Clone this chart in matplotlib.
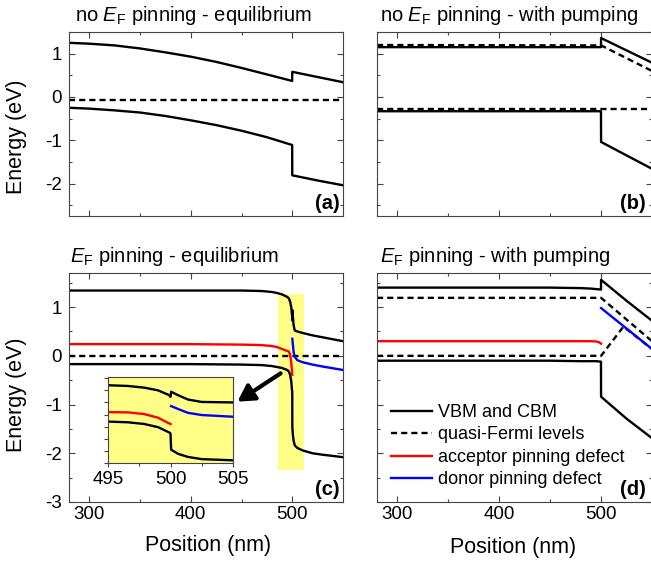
import numpy as np
import matplotlib
matplotlib.use('Agg')
import matplotlib.pyplot as plt
from matplotlib.ticker import MultipleLocator
from matplotlib.patches import Rectangle

plt.rcParams['font.family'] = ['Liberation Sans', 'DejaVu Sans']
plt.rcParams['mathtext.fontset'] = 'custom'
plt.rcParams['mathtext.rm'] = 'Liberation Sans'
plt.rcParams['mathtext.it'] = 'Liberation Sans:italic'
plt.rcParams['mathtext.bf'] = 'Liberation Sans:bold'
plt.rcParams['axes.unicode_minus'] = False

# (a) sin pinning, equilibrio
a_x = [280, 300, 325, 350, 375, 400, 425, 450, 475, 499.9, 500, 525, 550]
a_cbm = [1.25, 1.23, 1.19, 1.12, 1.03, 0.93, 0.81, 0.67, 0.52, 0.37, 0.58, 0.46, 0.34]
a_vbm = [-0.25, -0.27, -0.31, -0.36, -0.44, -0.54, -0.65, -0.78, -0.93, -1.11, -1.81, -1.93, -2.04]
a_ef_x = [280, 550]
a_ef = [-0.06, -0.06]

# (b) sin pinning, con bombeo
b_x = [280, 499.9, 500, 550]
b_cbm = [1.15, 1.15, 1.36, 0.79]
b_vbm = [-0.33, -0.33, -1.04, -1.66]
b_efn_x = [280, 500, 550]
b_efn = [1.20, 1.19, 0.60]
b_efp_x = [280, 550]
b_efp = [-0.28, -0.28]

# (c) pinning, equilibrio
c_x = [280, 400, 450, 470, 480, 485, 490, 495, 496.6, 497.9, 499.0, 499.9, 500.0,
       500.05, 500.6, 501.4, 502.5, 505, 510, 520, 530, 550]
c_cbm = [1.34, 1.34, 1.34, 1.33, 1.31, 1.29, 1.26, 1.21, 1.18, 1.11, 1.00, 0.80, 0.73,
         0.94, 0.80, 0.62, 0.52, 0.50, 0.47, 0.42, 0.38, 0.30]
c_vbm = [-0.17, -0.17, -0.18, -0.19, -0.21, -0.23, -0.25, -0.29, -0.32, -0.39, -0.52, -0.74, -0.78,
         -1.45, -1.62, -1.75, -1.84, -1.89, -1.94, -2.00, -2.03, -2.08]
c_red_x = [280, 400, 450, 470, 480, 485, 490, 495, 496.6, 497.9, 499.0, 499.6, 500.0]
c_red = [0.24, 0.24, 0.23, 0.22, 0.20, 0.18, 0.14, 0.10, 0.09, 0.02, -0.13, -0.29, -0.39]
c_blue_x = [500.05, 500.6, 501.4, 502.5, 505, 510, 520, 530, 550]
c_blue = [0.35, 0.23, 0.07, -0.02, -0.09, -0.13, -0.18, -0.22, -0.29]
c_ef_x = [280, 550]
c_ef = [0.0, 0.0]

# (d) pinning, con bombeo
d_x = [280, 450, 480, 490, 495, 499.9, 500, 525, 550]
d_cbm = [1.40, 1.40, 1.39, 1.38, 1.37, 1.36, 1.56, 1.13, 0.72]
d_vbm = [-0.10, -0.10, -0.11, -0.11, -0.11, -0.12, -0.84, -1.29, -1.69]
d_efn_x = [280, 500, 550]
d_efn = [1.19, 1.19, 0.30]
d_efp_x = [280, 500, 522, 550]
d_efp = [0.0, 0.0, 0.60, 0.14]
d_red_x = [280, 490, 495, 498, 500]
d_red = [0.30, 0.30, 0.295, 0.28, 0.25]
d_blue_x = [500, 525, 550]
d_blue = [0.98, 0.56, 0.14]

W, H = 651, 565
fig = plt.figure(figsize=(W / 100, H / 100), dpi=100)


def px_axes(l, t, r, b):
    return fig.add_axes([l / W, 1 - b / H, (r - l) / W, (b - t) / H])


GR = '#444444'
LW = 1.7
DASH = (2.6, 1.7)
TS = 13.5


def style(ax, ylim, yticks, xlab=True, ylab=True):
    ax.set_xlim(280, 550)
    ax.set_ylim(*ylim)
    ax.set_xticks([300, 400, 500])
    ax.set_xticks([350, 450], minor=True)
    ax.set_yticks(yticks)
    ax.yaxis.set_minor_locator(MultipleLocator(0.5))
    ax.tick_params(which='both', direction='in', top=True, right=True, color=GR,
                   labelsize=TS, width=0.8)
    ax.tick_params(which='major', length=4)
    ax.tick_params(which='minor', length=2)
    ax.tick_params(axis='x', pad=3)
    ax.tick_params(axis='y', pad=5)
    if not xlab:
        ax.set_xticklabels([])
    if not ylab:
        ax.set_yticklabels([])
    for s in ax.spines.values():
        s.set_color(GR)
        s.set_linewidth(0.8)


def panel_label(ax, txt, dx):
    ax.annotate(txt, xy=(1, 0), xycoords='axes fraction', xytext=(dx, 3),
                textcoords='offset pixels', ha='right', va='bottom',
                fontsize=14.5, fontweight='bold')


ax_a = px_axes(69, 32, 343, 216)
ax_b = px_axes(377, 32, 652, 216)
ax_c = px_axes(69, 273, 343, 502)
ax_d = px_axes(377, 273, 652, 502)

# (a)
ax_a.plot(a_x, a_cbm, 'k', lw=LW)
ax_a.plot(a_x, a_vbm, 'k', lw=LW)
ax_a.plot(a_ef_x, a_ef, 'k', lw=LW, dashes=DASH)
style(ax_a, (-2.75, 1.5), [-2, -1, 0, 1], xlab=False)
panel_label(ax_a, '(a)', -3)

# (b)
ax_b.plot(b_x, b_cbm, 'k', lw=LW)
ax_b.plot(b_x, b_vbm, 'k', lw=LW)
ax_b.plot(b_efn_x, b_efn, 'k', lw=LW, dashes=DASH)
ax_b.plot(b_efp_x, b_efp, 'k', lw=LW, dashes=DASH)
style(ax_b, (-2.75, 1.5), [-2, -1, 0, 1], xlab=False, ylab=False)
panel_label(ax_b, '(b)', -6)

# (c)
ax_c.add_patch(Rectangle((486, -2.35), 26, 3.62, facecolor='#ffff88', edgecolor='none', zorder=0.5))
ax_c.plot(c_x, c_cbm, 'k', lw=LW)
ax_c.plot(c_x, c_vbm, 'k', lw=LW)
ax_c.plot(c_ef_x, c_ef, 'k', lw=LW, dashes=DASH)
ax_c.plot(c_red_x, c_red, color='red', lw=LW)
ax_c.plot(c_blue_x, c_blue, color='blue', lw=LW)
ax_c.annotate('', xy=(446, -0.94), xytext=(488.5, -0.36),
              arrowprops=dict(arrowstyle='-|>,head_length=0.7,head_width=0.4', lw=3,
                              color='k', shrinkA=0, shrinkB=0, mutation_scale=14),
              zorder=5)
style(ax_c, (-3, 1.7), [-3, -2, -1, 0, 1])
panel_label(ax_c, '(c)', -3)

# (d)
h1, = ax_d.plot(d_x, d_cbm, 'k', lw=LW, label='VBM and CBM')
ax_d.plot(d_x, d_vbm, 'k', lw=LW)
h2, = ax_d.plot(d_efn_x, d_efn, 'k', lw=LW, dashes=DASH, label='quasi-Fermi levels')
ax_d.plot(d_efp_x, d_efp, 'k', lw=LW, dashes=DASH)
h3, = ax_d.plot(d_red_x, d_red, color='red', lw=LW, label='acceptor pinning defect')
h4, = ax_d.plot(d_blue_x, d_blue, color='blue', lw=LW, label='donor pinning defect')
style(ax_d, (-3, 1.7), [-3, -2, -1, 0, 1], ylab=False)
panel_label(ax_d, '(d)', -6)
ax_d.legend(handles=[h1, h2, h3, h4], loc='upper left',
            bbox_to_anchor=(391 / W, 1 - 404 / H), bbox_transform=fig.transFigure,
            frameon=False, fontsize=13, handlelength=2.25, handletextpad=0.35,
            labelspacing=0.3, borderpad=0, borderaxespad=0)

# inset de (c)
ax_in = px_axes(108, 377, 233, 463)
ax_in.set_facecolor('#ffff88')
ax_in.plot(c_x, c_cbm, 'k', lw=LW)
ax_in.plot(c_x, c_vbm, 'k', lw=LW)
ax_in.plot(c_red_x, c_red, color='red', lw=LW)
ax_in.plot(c_blue_x, c_blue, color='blue', lw=LW)
ax_in.set_xlim(495, 505)
ax_in.set_ylim(-2.0, 1.55)
ax_in.set_xticks([495, 500, 505])
ax_in.xaxis.set_minor_locator(MultipleLocator(2.5))
ax_in.set_yticks(np.arange(-2.0, 1.6, 0.5))
ax_in.set_yticklabels([])
ax_in.tick_params(which='both', direction='out', color=GR, labelsize=TS, width=0.8, pad=3)
ax_in.tick_params(which='major', length=3)
ax_in.tick_params(which='minor', length=2)
for s in ax_in.spines.values():
    s.set_color(GR)
    s.set_linewidth(0.8)

# titulos y etiquetas
fig.text(75 / W, 1 - 21 / H, 'no $E_\\mathrm{F}$ pinning - equilibrium', fontsize=14.5, va='baseline')
fig.text(380 / W, 1 - 21 / H, 'no $E_\\mathrm{F}$ pinning - with pumping', fontsize=14.5, va='baseline')
fig.text(70 / W, 1 - 262 / H, '$E_\\mathrm{F}$ pinning - equilibrium', fontsize=14.5, va='baseline')
fig.text(380 / W, 1 - 262 / H, '$E_\\mathrm{F}$ pinning - with pumping', fontsize=14.5, va='baseline')

fig.text(17 / W, 1 - 137 / H, 'Energy (eV)', rotation=90, ha='center', va='center', fontsize=15.5)
fig.text(17 / W, 1 - 395 / H, 'Energy (eV)', rotation=90, ha='center', va='center', fontsize=15.5)
fig.text(208 / W, 1 - 546 / H, 'Position (nm)', ha='center', va='center', fontsize=15.5)
fig.text(513 / W, 1 - 548 / H, 'Position (nm)', ha='center', va='center', fontsize=15.5)

plt.savefig('out.png', dpi=100)
plt.close()
